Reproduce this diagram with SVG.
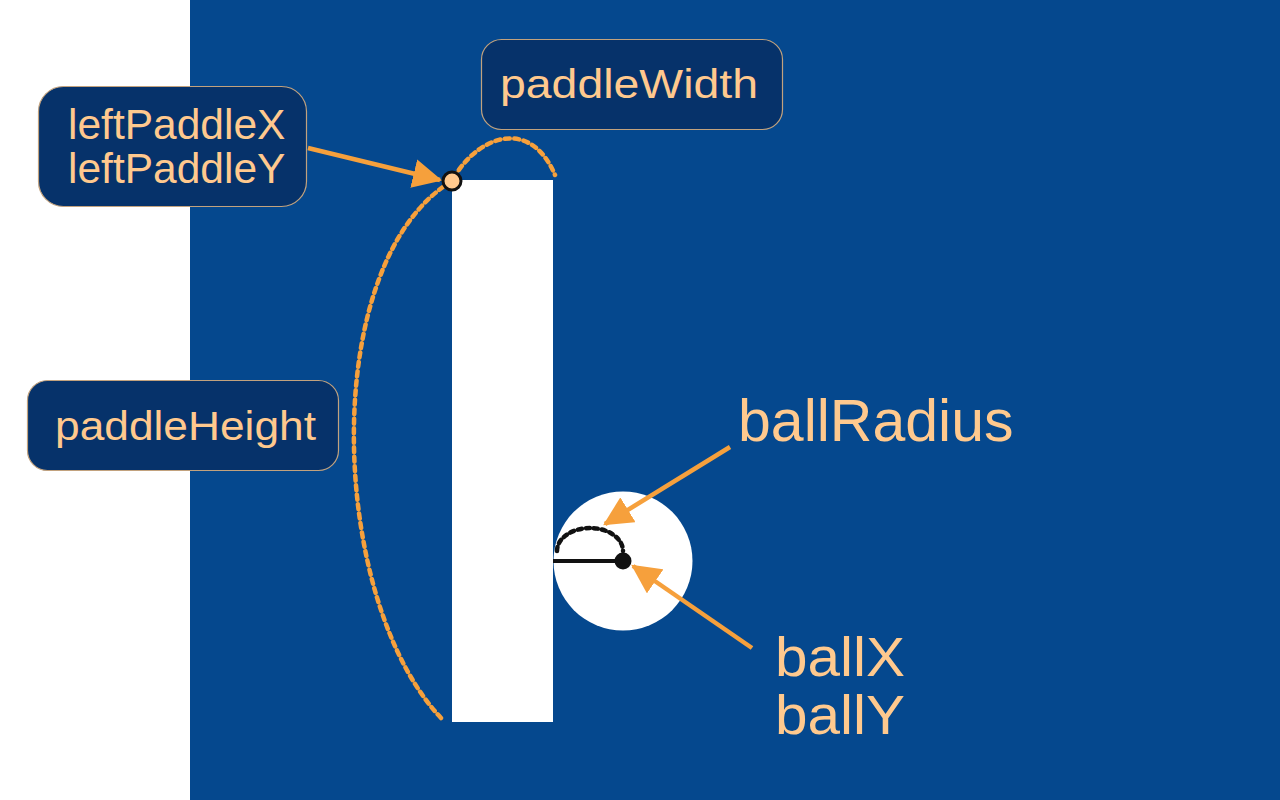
<svg xmlns="http://www.w3.org/2000/svg" width="1280" height="800" viewBox="0 0 1280 800">
<style>
.box{fill:#06326A;stroke:#C2A27E;stroke-width:1.2}
.lbl{font-family:"Liberation Sans",Arial,sans-serif;fill:#FFC98E}
.arr{stroke:#F6A03C;stroke-width:4.5;fill:none}
.dash{stroke:#F6A03C;stroke-width:4.5;fill:none;stroke-dasharray:5 4.5;stroke-linecap:round}
</style>
<defs>
<marker id="ah" markerWidth="6.5" markerHeight="6.5" refX="6" refY="3.25" orient="auto" markerUnits="strokeWidth">
<path d="M0,0 L6.5,3.25 L0,6.5 z" fill="#F6A03C"/>
</marker>
</defs>
<rect x="0" y="0" width="1280" height="800" fill="#ffffff"/>
<rect x="190" y="0" width="1090" height="800" fill="#05488E"/>
<g id="paddle"><rect x="452" y="180" width="101" height="542" fill="#ffffff"/></g>
<g id="ball">
<circle cx="623" cy="561" r="69.5" fill="#ffffff"/>
<path d="M557,551 A33,23 0 0 1 623,551" fill="none" stroke="#111" stroke-width="4.5" stroke-dasharray="4 4" stroke-linecap="round"/>
<line x1="553" y1="561" x2="623" y2="561" stroke="#111" stroke-width="4"/>
<circle cx="623" cy="561" r="8.5" fill="#111"/>
</g>
<g id="connectors">
<path class="dash" d="M441,718 C328,598 318,262 452,181 C476,136 530,116 555,175"/>
<line class="arr" x1="308" y1="148" x2="440" y2="180" marker-end="url(#ah)"/>
<line class="arr" x1="730" y1="447" x2="605" y2="524" marker-end="url(#ah)"/>
<line class="arr" x1="752" y1="648" x2="633" y2="566" marker-end="url(#ah)"/>
</g>
<g id="corner"><circle cx="452" cy="181" r="9" fill="#FFC98E" stroke="#111" stroke-width="3"/></g>
<g id="leftPaddleXY">
<rect class="box" x="38.5" y="86.5" width="268" height="120" rx="25"/>
<text class="lbl" x="68" y="139" font-size="42.5">leftPaddleX</text>
<text class="lbl" x="68" y="183" font-size="42.5">leftPaddleY</text>
</g>
<g id="paddleWidth">
<rect class="box" x="481.5" y="39.5" width="301" height="90" rx="20"/>
<text class="lbl" x="500" y="98" font-size="40" textLength="258" lengthAdjust="spacingAndGlyphs">paddleWidth</text>
</g>
<g id="paddleHeight">
<rect class="box" x="27.5" y="380.5" width="311" height="90" rx="20"/>
<text class="lbl" x="55" y="440" font-size="41" textLength="261" lengthAdjust="spacingAndGlyphs">paddleHeight</text>
</g>
<g id="ballRadius"><text class="lbl" x="738" y="441" font-size="59">ballRadius</text></g>
<g id="ballXY">
<text class="lbl" x="775" y="676" font-size="56" textLength="130" lengthAdjust="spacingAndGlyphs">ballX</text>
<text class="lbl" x="775" y="734" font-size="56" textLength="130" lengthAdjust="spacingAndGlyphs">ballY</text>
</g>
</svg>
